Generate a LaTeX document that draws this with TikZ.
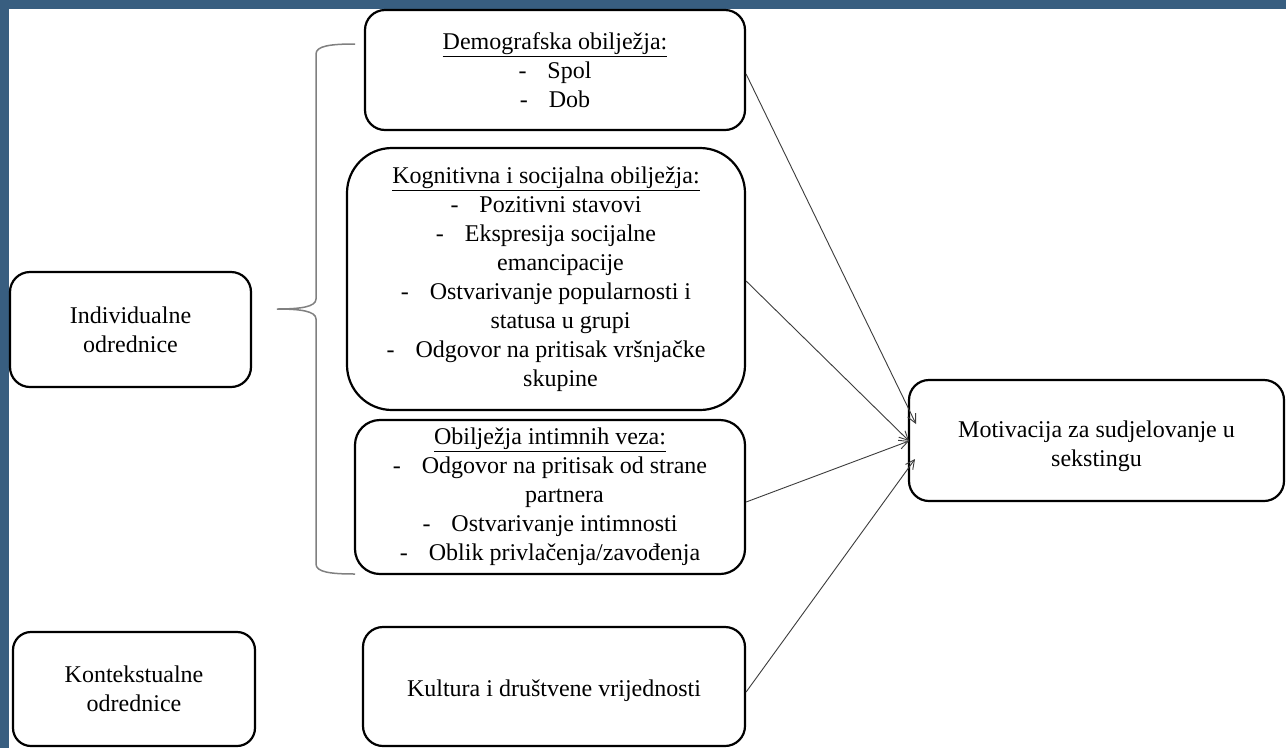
\documentclass[tikz,border=0pt]{standalone}
\usepackage{fontspec}
\setmainfont{Liberation Serif}
\usetikzlibrary{arrows.meta}
\definecolor{frameblue}{RGB}{56,94,128}
\definecolor{bracegray}{RGB}{128,128,128}
\definecolor{arrgray}{RGB}{60,60,60}
\newcommand\itm{-\hspace{21pt}}
\newcommand\cont{\hspace*{29pt}}
\begin{document}
\begin{tikzpicture}[x=1pt,y=-1pt,
  box/.style={draw=black, line width=2.2pt, align=center, inner sep=0pt,
    font=\fontsize{24}{29}\selectfont},
  arr/.style={draw=arrgray, line width=0.9pt, -{Straight Barb[length=9pt,width=9pt,line width=0.9pt]}},
  brace/.style={draw=bracegray, line width=1.5pt}]
\useasboundingbox (0,0) rectangle (1286,748);
\fill[frameblue] (0,0) rectangle (1286,748);
\fill[white] (9,9) rectangle (1286,748);

\node[box, rounded corners=20pt, minimum width=380pt, minimum height=120pt] (demo) at (555,70)
  {\underline{Demografska obilježja:}\\ \itm Spol\\ \itm Dob};
\node[box, rounded corners=45pt, minimum width=398pt, minimum height=262pt] (kog) at (546,279)
  {\underline{Kognitivna i socijalna obilježja:}\\
   \itm Pozitivni stavovi\\
   \itm Ekspresija socijalne\\
   \cont emancipacije\\
   \itm Ostvarivanje popularnosti i\\
   \cont statusa u grupi\\
   \itm Odgovor na pritisak vršnjačke\\
   \cont skupine};
\node[box, rounded corners=25pt, minimum width=390pt, minimum height=154pt] (int) at (550,497)
  {\underline{Obilježja intimnih veza:}\\
   \itm Odgovor na pritisak od strane\\
   \cont partnera\\
   \itm Ostvarivanje intimnosti\\
   \itm Oblik privlačenja/zavođenja};
\node[box, rounded corners=20pt, minimum width=241pt, minimum height=115pt] (ind) at (130.5,329.5)
  {Individualne\\ odrednice};
\node[box, rounded corners=18pt, minimum width=242pt, minimum height=114pt] (kon) at (134,689)
  {Kontekstualne\\ odrednice};
\node[box, rounded corners=20pt, minimum width=382pt, minimum height=119pt] (kul) at (554,686.5)
  {\rule{0pt}{25pt}Kultura i društvene vrijednosti};
\node[box, rounded corners=20pt, minimum width=375pt, minimum height=121pt] (mot) at (1096.5,440.5)
  {\rule{0pt}{28pt}Motivacija za sudjelovanje u\\ sekstingu};

\coordinate (t1) at (916,424);
\coordinate (t2) at (909,441);
\coordinate (t3) at (915,459);
\draw[arr] ([yshift=-4pt]demo.east) -- (t1);
\draw[arr] ([yshift=-2pt]kog.east) -- (t2);
\draw[arr] ([yshift=-5pt]int.east) -- (t2);
\draw[arr] ([yshift=-5.5pt]kul.east) -- (t3);

\coordinate (btop) at (355,44);
\coordinate (btip) at (277,309);
\coordinate (bbot) at (355,574);
\draw[brace] (btop) .. controls (330,44) and (316,46) .. (316,54) -- (316,299)
  .. controls (316,307) and (300,309) .. (btip)
  .. controls (300,309) and (316,311) .. (316,319) -- (316,564)
  .. controls (316,572) and (330,574) .. (bbot);
\end{tikzpicture}
\end{document}
